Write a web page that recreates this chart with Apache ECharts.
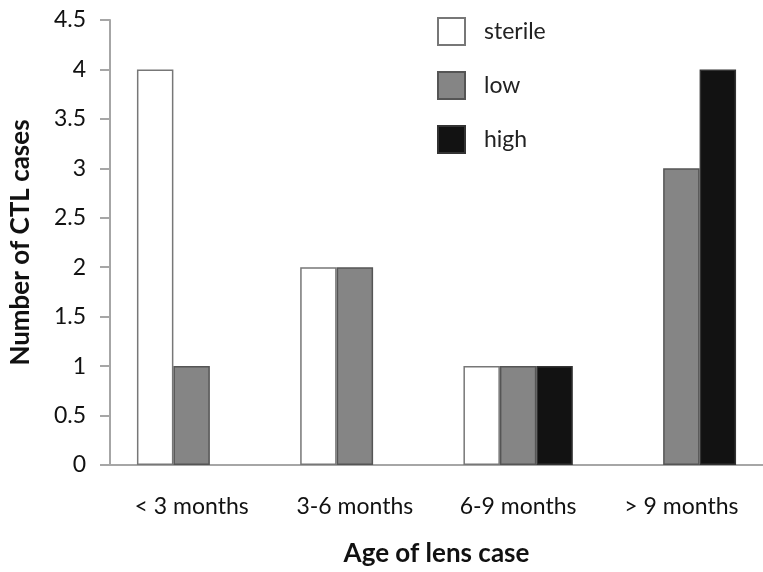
<!DOCTYPE html>
<html><head><meta charset="utf-8">
<script src="https://cdn.jsdelivr.net/npm/echarts@6/dist/echarts.min.js"></script>
<style>html,body{margin:0;padding:0;background:#fff}#c{width:763px;height:572px}</style>
</head><body><div id="c"></div>
<script>
const categories = ["< 3 months", "3-6 months", "6-9 months", "> 9 months"];
const sterile = [4, 2, 1, 0];
const low = [1, 2, 1, 3];
const high = [0, 0, 1, 4];
const yTicks = [0, 0.5, 1, 1.5, 2, 2.5, 3, 3.5, 4, 4.5];

const font = "Lato, 'Open Sans', sans-serif";
const chart = echarts.init(document.getElementById('c'), null, {renderer: 'canvas'});
const bar = (name, data, color, border) => ({
  name, type: 'bar', data: data.map(v => v === 0 ? null : v),
  barGap: '0%', barCategoryGap: '33%',
  itemStyle: {color, borderColor: border, borderWidth: 1.5},
  emphasis: {disabled: true}
});
chart.setOption({
  animation: false,
  backgroundColor: '#fff',
  textStyle: {fontFamily: font},
  grid: {left: 110, top: 20, width: 664, height: 447},
  legend: {
    orient: 'vertical', left: 432, top: 12,
    icon: 'rect',
    itemWidth: 27, itemHeight: 27, itemGap: 25,
    data: ['sterile', 'low', 'high'],
    textStyle: {fontSize: 23, color: '#222', fontFamily: font, padding: [0, 0, 0, 14]},
    itemStyle: {borderWidth: 2}
  },
  xAxis: {
    type: 'category', data: categories,
    name: 'Age of lens case', nameLocation: 'middle', nameGap: 76,
    nameTextStyle: {fontSize: 26, fontWeight: 'bold', color: '#111', fontFamily: font},
    axisLine: {lineStyle: {color: '#a6a6a6', width: 2}},
    axisTick: {show: false},
    axisLabel: {fontSize: 23, color: '#111', margin: 30, fontFamily: font}
  },
  yAxis: {
    type: 'value', min: 0, max: 4.5, interval: 0.5,
    name: 'Number of CTL cases', nameLocation: 'middle', nameGap: 76, nameRotate: 90,
    nameTextStyle: {fontSize: 26, fontWeight: 'bold', color: '#111', fontFamily: font},
    axisLine: {show: true, lineStyle: {color: '#a6a6a6', width: 2}},
    axisTick: {show: true, length: 10, lineStyle: {color: '#a6a6a6', width: 2}},
    splitLine: {show: false},
    axisLabel: {fontSize: 23, color: '#111', margin: 24, fontFamily: font,
      formatter: v => yTicks.includes(v) ? String(v) : ''}
  },
  series: [
    bar('sterile', sterile, '#ffffff', '#777777'),
    bar('low', low, '#858585', '#555555'),
    bar('high', high, '#121212', '#333333')
  ]
});
</script></body></html>
